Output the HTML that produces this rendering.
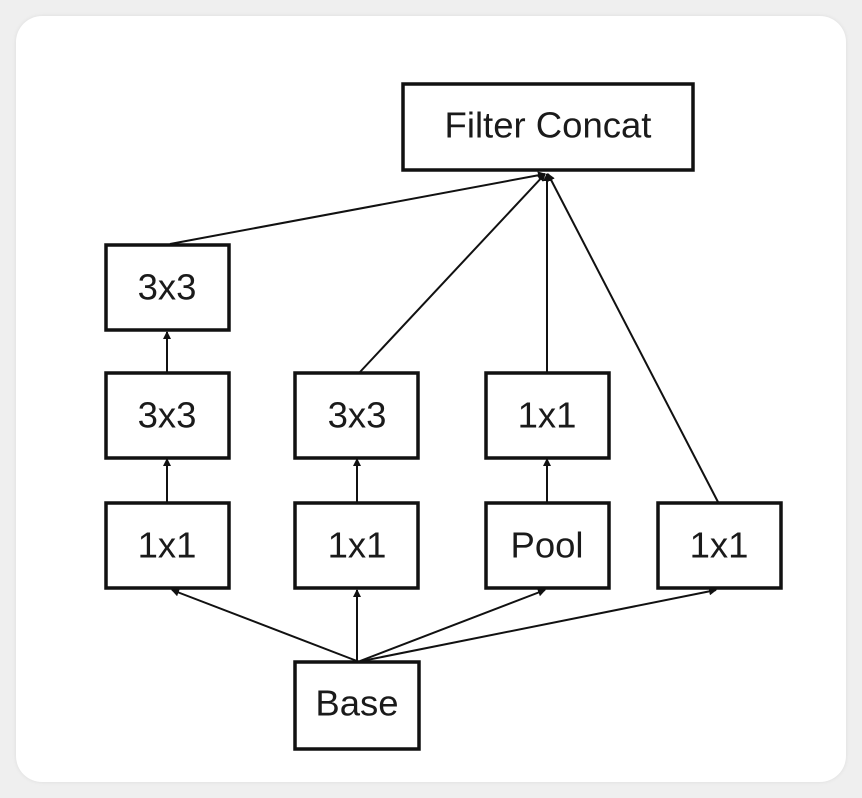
<!DOCTYPE html>
<html><head><style>
body{margin:0;background:#efefef;width:862px;height:798px;overflow:hidden}
.card{position:absolute;left:16px;top:16px;width:830px;height:766px;background:#fff;border-radius:26px;box-shadow:0 0 4px rgba(0,0,0,.08)}
svg{position:absolute;left:0;top:0}
text{font-family:"Liberation Sans",sans-serif;font-size:36.5px;fill:#1a1a1a;text-anchor:middle;dominant-baseline:central}
rect{fill:#fff;stroke:#111;stroke-width:3.5}
line{stroke:#111;stroke-width:2}
</style></head><body>
<div class="card"></div>
<svg width="862" height="798">
<defs><marker id="a" markerWidth="8" markerHeight="8" refX="7" refY="4" orient="auto" markerUnits="userSpaceOnUse"><path d="M0,0 L8,4 L0,8 z" fill="#111"/></marker></defs>
<line x1="170" y1="244" x2="545" y2="174" marker-end="url(#a)"/>
<line x1="360" y1="372" x2="545" y2="174" marker-end="url(#a)"/>
<line x1="547" y1="372" x2="547" y2="174" marker-end="url(#a)"/>
<line x1="718" y1="502" x2="548" y2="174" marker-end="url(#a)"/>
<line x1="167" y1="372" x2="167" y2="332" marker-end="url(#a)"/>
<line x1="167" y1="502" x2="167" y2="459" marker-end="url(#a)"/>
<line x1="357" y1="502" x2="357" y2="459" marker-end="url(#a)"/>
<line x1="547" y1="502" x2="547" y2="459" marker-end="url(#a)"/>
<line x1="357" y1="661" x2="172" y2="590" marker-end="url(#a)"/>
<line x1="357" y1="661" x2="357" y2="590" marker-end="url(#a)"/>
<line x1="360" y1="661" x2="545" y2="590" marker-end="url(#a)"/>
<line x1="362" y1="661" x2="716" y2="590" marker-end="url(#a)"/>
<rect x="403" y="84" width="290" height="86"/><text x="548" y="125">Filter Concat</text>
<rect x="106" y="245" width="123" height="85"/><text x="167" y="287">3x3</text>
<rect x="106" y="373" width="123" height="85"/><text x="167" y="415">3x3</text>
<rect x="295" y="373" width="123" height="85"/><text x="357" y="415">3x3</text>
<rect x="486" y="373" width="123" height="85"/><text x="547" y="415">1x1</text>
<rect x="106" y="503" width="123" height="85"/><text x="167" y="545">1x1</text>
<rect x="295" y="503" width="123" height="85"/><text x="357" y="545">1x1</text>
<rect x="486" y="503" width="123" height="85"/><text x="547" y="545">Pool</text>
<rect x="658" y="503" width="123" height="85"/><text x="719" y="545">1x1</text>
<rect x="295" y="662" width="124" height="87"/><text x="357" y="703">Base</text>
</svg>
</body></html>
